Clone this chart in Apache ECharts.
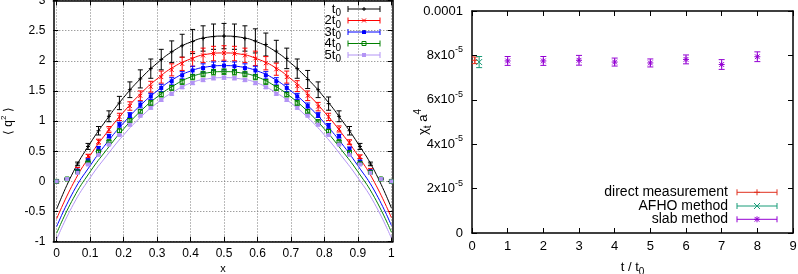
<!DOCTYPE html>
<html>
<head>
<meta charset="utf-8">
<script src="https://cdn.jsdelivr.net/npm/echarts@6/dist/echarts.min.js"></script>
<style>
html, body { margin: 0; padding: 0; background: #fff; }
#chart { width: 798px; height: 274px; }
</style>
</head>
<body>
<div id="chart"></div>
<script>
// ---- left panel: <q^2> against x ----
var pointX = [0, 0.03125, 0.0625, 0.09375, 0.125, 0.15625, 0.1875, 0.21875, 0.25, 0.28125, 0.3125,
    0.34375, 0.375, 0.40625, 0.4375, 0.46875, 0.5, 0.53125, 0.5625, 0.59375, 0.625, 0.65625,
    0.6875, 0.71875, 0.75, 0.78125, 0.8125, 0.84375, 0.875, 0.90625, 0.9375, 0.96875, 1];

var q2_t1 = [0, 0.04, 0.29, 0.58, 0.84, 1.08, 1.30, 1.52, 1.70, 1.87, 2.02, 2.15, 2.25, 2.32, 2.37, 2.40, 2.41,
    2.40, 2.37, 2.33, 2.27, 2.16, 2.04, 1.87, 1.69, 1.52, 1.29, 1.08, 0.84, 0.58, 0.29, 0.045, 0];
var q2_t2 = [0, 0.04, 0.21, 0.42, 0.66, 0.86, 1.07, 1.25, 1.42, 1.57, 1.73, 1.85, 1.95, 2.03, 2.09, 2.12, 2.13,
    2.12, 2.09, 2.04, 1.96, 1.86, 1.73, 1.58, 1.42, 1.24, 1.07, 0.87, 0.65, 0.41, 0.19, 0.04, 0];
var q2_t3 = [0, 0.04, 0.18, 0.35, 0.55, 0.75, 0.94, 1.10, 1.27, 1.41, 1.55, 1.66, 1.76, 1.84, 1.88, 1.91, 1.92,
    1.91, 1.88, 1.84, 1.76, 1.66, 1.55, 1.41, 1.25, 1.10, 0.92, 0.75, 0.54, 0.33, 0.17, 0.04, 0];
var q2_t4 = [0, 0.04, 0.16, 0.32, 0.49, 0.66, 0.84, 1.01, 1.16, 1.30, 1.44, 1.55, 1.65, 1.73, 1.78, 1.81, 1.82,
    1.81, 1.78, 1.73, 1.65, 1.55, 1.44, 1.30, 1.16, 0.99, 0.83, 0.66, 0.48, 0.30, 0.15, 0.04, 0];
var q2_t5 = [0, 0.04, 0.14, 0.28, 0.44, 0.61, 0.77, 0.94, 1.09, 1.22, 1.35, 1.45, 1.56, 1.63, 1.68, 1.71, 1.72,
    1.71, 1.68, 1.63, 1.56, 1.45, 1.35, 1.22, 1.09, 0.94, 0.77, 0.61, 0.44, 0.28, 0.14, 0.04, 0];

var err_t1 = [0, 0.01, 0.03, 0.05, 0.07, 0.09, 0.11, 0.13, 0.15, 0.16, 0.17, 0.18, 0.19, 0.20, 0.21, 0.21, 0.21,
    0.21, 0.21, 0.20, 0.19, 0.18, 0.17, 0.16, 0.15, 0.13, 0.11, 0.09, 0.07, 0.05, 0.03, 0.01, 0];
var err_t2 = [0, 0.01, 0.02, 0.03, 0.04, 0.05, 0.06, 0.07, 0.08, 0.09, 0.10, 0.10, 0.11, 0.12, 0.12, 0.12, 0.12,
    0.12, 0.12, 0.12, 0.11, 0.10, 0.10, 0.09, 0.08, 0.07, 0.06, 0.05, 0.04, 0.03, 0.02, 0.01, 0];
var err_t3 = [0, 0.01, 0.01, 0.02, 0.03, 0.03, 0.04, 0.04, 0.05, 0.05, 0.06, 0.06, 0.06, 0.07, 0.07, 0.07, 0.07,
    0.07, 0.07, 0.07, 0.06, 0.06, 0.06, 0.05, 0.05, 0.04, 0.04, 0.03, 0.03, 0.02, 0.01, 0.01, 0];
var err_t4 = [0, 0, 0.01, 0.01, 0.02, 0.02, 0.03, 0.03, 0.03, 0.04, 0.04, 0.04, 0.04, 0.045, 0.045, 0.045, 0.045,
    0.045, 0.045, 0.045, 0.04, 0.04, 0.04, 0.04, 0.03, 0.03, 0.03, 0.02, 0.02, 0.01, 0.01, 0, 0];
var err_t5 = [0, 0, 0, 0.01, 0.01, 0.01, 0.01, 0.02, 0.02, 0.02, 0.02, 0.02, 0.02, 0.025, 0.025, 0.025, 0.025,
    0.025, 0.025, 0.025, 0.02, 0.02, 0.02, 0.02, 0.02, 0.02, 0.01, 0.01, 0.01, 0.01, 0, 0, 0];

// fitted curves, read at steps of 0.05
var curveX = [0, 0.05, 0.1, 0.15, 0.2, 0.25, 0.3, 0.35, 0.4, 0.45, 0.5, 0.55, 0.6, 0.65, 0.7, 0.75, 0.8, 0.85, 0.9, 0.95, 1];
var fit_t1 = [-0.46, 0.16, 0.63, 1.03, 1.39, 1.70, 1.96, 2.17, 2.31, 2.39, 2.41, 2.39, 2.31, 2.17, 1.96, 1.70, 1.39, 1.03, 0.63, 0.17, -0.44];
var fit_t2 = [-0.62, -0.03, 0.43, 0.81, 1.15, 1.45, 1.70, 1.90, 2.03, 2.11, 2.13, 2.11, 2.03, 1.90, 1.70, 1.45, 1.15, 0.81, 0.43, -0.02, -0.60];
var fit_t3 = [-0.75, -0.17, 0.26, 0.64, 0.97, 1.26, 1.50, 1.70, 1.83, 1.90, 1.92, 1.90, 1.83, 1.70, 1.50, 1.26, 0.97, 0.64, 0.26, -0.16, -0.73];
var fit_t4 = [-0.86, -0.28, 0.16, 0.53, 0.87, 1.16, 1.40, 1.59, 1.73, 1.80, 1.82, 1.80, 1.73, 1.59, 1.40, 1.16, 0.87, 0.53, 0.16, -0.27, -0.84];
var fit_t5 = [-0.96, -0.38, 0.06, 0.43, 0.77, 1.06, 1.30, 1.49, 1.63, 1.70, 1.72, 1.70, 1.63, 1.49, 1.30, 1.06, 0.77, 0.43, 0.06, -0.37, -0.94];

var leftXTicks = [0, 0.1, 0.2, 0.3, 0.4, 0.5, 0.6, 0.7, 0.8, 0.9, 1];
var leftNames = ['t{s|0}', '2t{s|0}', '3t{s|0}', '4t{s|0}', '5t{s|0}'];
var leftColors = ['#000000', '#ff0000', '#0000ff', '#008000', '#b394f5'];
var leftMarks = ['plus', 'cross', 'box', 'openbox', 'box'];

// ---- right panel: chi_t a^4 against t / t0 ----
var directX = [0.08];
var directY = [7.78e-5];
var directErr = [0.15e-5];
var afhoX = [0.2];
var afhoY = [7.70e-5];
var afhoErr = [0.25e-5];
var slabX = [1, 2, 3, 4, 5, 6, 7, 8];
var slabY = [7.75e-5, 7.75e-5, 7.78e-5, 7.70e-5, 7.66e-5, 7.82e-5, 7.59e-5, 7.94e-5];
var slabErr = [0.2e-5, 0.2e-5, 0.22e-5, 0.18e-5, 0.18e-5, 0.2e-5, 0.22e-5, 0.22e-5];
var rightNames = ['direct measurement', 'AFHO method', 'slab method'];
var rightColors = ['#e0301e', '#199c78', '#9400d3'];
var rightMarks = ['plus', 'cross', 'star'];

var FONT = 'Liberation Sans, Arial, sans-serif';

function markerShape(kind, x, y, s, color) {
    var h = s / 2;
    var st = { stroke: color, lineWidth: 1 };
    if (kind == 'plus') {
        return [
            { type: 'line', shape: { x1: x - h, y1: y, x2: x + h, y2: y }, style: st },
            { type: 'line', shape: { x1: x, y1: y - h, x2: x, y2: y + h }, style: st }
        ];
    }
    if (kind == 'cross') {
        return [
            { type: 'line', shape: { x1: x - h, y1: y - h, x2: x + h, y2: y + h }, style: st },
            { type: 'line', shape: { x1: x - h, y1: y + h, x2: x + h, y2: y - h }, style: st }
        ];
    }
    if (kind == 'star') {
        return markerShape('plus', x, y, s, color).concat(markerShape('cross', x, y, s * 0.8, color));
    }
    if (kind == 'openbox') {
        return [{ type: 'rect', shape: { x: x - h, y: y - h, width: s, height: s }, style: { fill: 'none', stroke: color, lineWidth: 1 } }];
    }
    return [{ type: 'rect', shape: { x: x - h, y: y - h, width: s, height: s }, style: { fill: color } }];
}

function errorSeries(name, xs, ys, es, color, kind, size, cap, xi, yi) {
    var data = [];
    for (var i = 0; i < xs.length; i++) {
        data.push([xs[i], ys[i], es[i]]);
    }
    return {
        type: 'custom',
        name: name,
        xAxisIndex: xi,
        yAxisIndex: yi,
        data: data,
        encode: { x: 0, y: 1 },
        clip: false,
        z: 3,
        renderItem: function (params, api) {
            var x = api.value(0), y = api.value(1), e = api.value(2);
            var p = api.coord([x, y]);
            var kids = [];
            if (e > 0) {
                var top = api.coord([x, y + e]);
                var bot = api.coord([x, y - e]);
                var st = { stroke: color, lineWidth: 1 };
                kids.push({ type: 'line', shape: { x1: p[0], y1: top[1], x2: p[0], y2: bot[1] }, style: st });
                kids.push({ type: 'line', shape: { x1: p[0] - cap, y1: top[1], x2: p[0] + cap, y2: top[1] }, style: st });
                kids.push({ type: 'line', shape: { x1: p[0] - cap, y1: bot[1], x2: p[0] + cap, y2: bot[1] }, style: st });
            }
            kids = kids.concat(markerShape(kind, p[0], p[1], size, color));
            return { type: 'group', children: kids };
        }
    };
}

function curveSeries(ys, color) {
    var data = [];
    for (var i = 0; i < curveX.length; i++) {
        data.push([curveX[i], ys[i]]);
    }
    return {
        type: 'line', xAxisIndex: 0, yAxisIndex: 0, data: data, smooth: true,
        showSymbol: false, silent: true, z: 2,
        lineStyle: { color: color, width: 1 }
    };
}

// legend drawn by hand: label, sample line with caps, marker
function legendRows(names, colors, marks, textRight, x1, x2, ys, fontSize, size) {
    var out = [];
    for (var i = 0; i < names.length; i++) {
        var y = ys[i];
        var st = { stroke: colors[i], lineWidth: 1 };
        out.push({ type: 'text', x: textRight, y: y, style: {
            text: names[i], fill: '#000', font: fontSize + 'px ' + FONT, align: 'right', verticalAlign: 'middle',
            rich: { s: { fontSize: fontSize - 3, verticalAlign: 'bottom', lineHeight: fontSize + 6 } }
        } });
        out.push({ type: 'line', shape: { x1: x1, y1: y, x2: x2, y2: y }, style: st });
        out.push({ type: 'line', shape: { x1: x1, y1: y - 3, x2: x1, y2: y + 3 }, style: st });
        out.push({ type: 'line', shape: { x1: x2, y1: y - 3, x2: x2, y2: y + 3 }, style: st });
        var m = markerShape(marks[i], (x1 + x2) / 2, y, size, colors[i]);
        for (var j = 0; j < m.length; j++) out.push(m[j]);
    }
    return out;
}

var frameLine = { onZero: false, lineStyle: { color: '#000', width: 1.5 } };
var inTick = { inside: true, length: 5, lineStyle: { color: '#000' } };

var option = {
    animation: false,
    grid: [
        { left: 53.3, top: 0.5, width: 339.4, height: 241.2, outerBoundsMode: 'none', containLabel: false },
        { left: 472, top: 11, width: 321, height: 222, outerBoundsMode: 'none', containLabel: false }
    ],
    xAxis: [
        {
            gridIndex: 0, type: 'value', min: -0.01, max: 1.004,
            axisLine: frameLine,
            axisTick: { inside: true, length: 5, lineStyle: { color: '#000' }, customValues: leftXTicks },
            axisLabel: { customValues: leftXTicks, color: '#000', fontSize: 12, fontFamily: FONT, margin: 6,
                formatter: function (v) { return String(Math.round(v * 10) / 10); } },
            splitLine: { show: true, lineStyle: { color: '#777', type: [1, 2] } },
            name: 'x', nameLocation: 'middle', nameGap: 22, nameMoveOverlap: false,
            nameTextStyle: { color: '#000', fontSize: 11, fontFamily: FONT }
        },
        {
            gridIndex: 0, type: 'value', position: 'top', min: -0.01, max: 1.004,
            axisLine: frameLine,
            axisTick: { inside: true, length: 5, lineStyle: { color: '#000' }, customValues: leftXTicks },
            axisLabel: { show: false }, splitLine: { show: false }
        },
        {
            gridIndex: 1, type: 'value', min: 0, max: 9, interval: 1,
            axisLine: frameLine, axisTick: inTick,
            axisLabel: { color: '#000', fontSize: 13, fontFamily: FONT, margin: 7 },
            splitLine: { show: false },
            name: 't / t{s|0}', nameLocation: 'middle', nameGap: 24, nameMoveOverlap: false,
            nameTextStyle: { color: '#000', fontSize: 13, fontFamily: FONT,
                rich: { s: { fontSize: 10, verticalAlign: 'bottom', lineHeight: 20 } } }
        },
        {
            gridIndex: 1, type: 'value', position: 'top', min: 0, max: 9, interval: 1,
            axisLine: frameLine, axisTick: inTick,
            axisLabel: { show: false }, splitLine: { show: false }
        }
    ],
    yAxis: [
        {
            gridIndex: 0, type: 'value', min: -1, max: 3, interval: 0.5,
            axisLine: frameLine, axisTick: inTick,
            axisLabel: { color: '#000', fontSize: 12, fontFamily: FONT, margin: 8 },
            splitLine: { show: true, lineStyle: { color: '#777', type: [1, 2] } },
            name: '\u27e8 q{p|2} \u27e9', nameLocation: 'middle', nameGap: 36, nameMoveOverlap: false,
            nameTextStyle: { color: '#000', fontSize: 12, fontFamily: FONT,
                rich: { p: { fontSize: 8, verticalAlign: 'top', lineHeight: 18 } } }
        },
        {
            gridIndex: 0, type: 'value', position: 'right', min: -1, max: 3, interval: 0.5,
            axisLine: frameLine, axisTick: inTick,
            axisLabel: { show: false }, splitLine: { show: false }
        },
        {
            gridIndex: 1, type: 'value', min: 0, max: 1e-4, interval: 2e-5,
            axisLine: frameLine, axisTick: inTick,
            axisLabel: {
                color: '#000', fontSize: 13, fontFamily: FONT, margin: 9,
                formatter: function (v) {
                    if (v == 0) return '0';
                    if (v > 9.9e-5) return '0.0001';
                    return Math.round(v * 1e5) + 'x10{p|-5}';
                },
                rich: { p: { fontSize: 9, verticalAlign: 'top', lineHeight: 20 } }
            },
            splitLine: { show: false },
            name: '\u03c7{s|t} a{p|4}', nameLocation: 'middle', nameGap: 39, nameMoveOverlap: false,
            nameTextStyle: { color: '#000', fontSize: 13, fontFamily: FONT,
                rich: { s: { fontSize: 10, verticalAlign: 'bottom', lineHeight: 20 },
                        p: { fontSize: 10, verticalAlign: 'top', lineHeight: 20 } } }
        },
        {
            gridIndex: 1, type: 'value', position: 'right', min: 0, max: 1e-4, interval: 2e-5,
            axisLine: frameLine, axisTick: inTick,
            axisLabel: { show: false }, splitLine: { show: false }
        }
    ],
    graphic: legendRows(leftNames, leftColors, leftMarks, 341, 348, 380, [9, 20.5, 32, 43.5, 55], 13, 4)
        .concat(legendRows(rightNames, rightColors, rightMarks, 728, 737, 777, [192.3, 206, 219.3], 14, 6)),
    series: [
        curveSeries(fit_t1, leftColors[0]),
        curveSeries(fit_t2, leftColors[1]),
        curveSeries(fit_t3, leftColors[2]),
        curveSeries(fit_t4, leftColors[3]),
        curveSeries(fit_t5, leftColors[4]),
        errorSeries('t0', pointX, q2_t1, err_t1, leftColors[0], leftMarks[0], 4, 2.5, 0, 0),
        errorSeries('2t0', pointX, q2_t2, err_t2, leftColors[1], leftMarks[1], 4, 2.5, 0, 0),
        errorSeries('3t0', pointX, q2_t3, err_t3, leftColors[2], leftMarks[2], 4, 2.5, 0, 0),
        errorSeries('4t0', pointX, q2_t4, err_t4, leftColors[3], leftMarks[3], 4, 2.5, 0, 0),
        errorSeries('5t0', pointX, q2_t5, err_t5, leftColors[4], leftMarks[4], 4, 2.5, 0, 0),
        errorSeries(rightNames[0], directX, directY, directErr, rightColors[0], rightMarks[0], 6, 3, 2, 2),
        errorSeries(rightNames[1], afhoX, afhoY, afhoErr, rightColors[1], rightMarks[1], 6, 3, 2, 2),
        errorSeries(rightNames[2], slabX, slabY, slabErr, rightColors[2], rightMarks[2], 6, 3, 2, 2)
    ]
};

var myChart = echarts.init(document.getElementById('chart'));
myChart.setOption(option);
</script>
</body>
</html>
